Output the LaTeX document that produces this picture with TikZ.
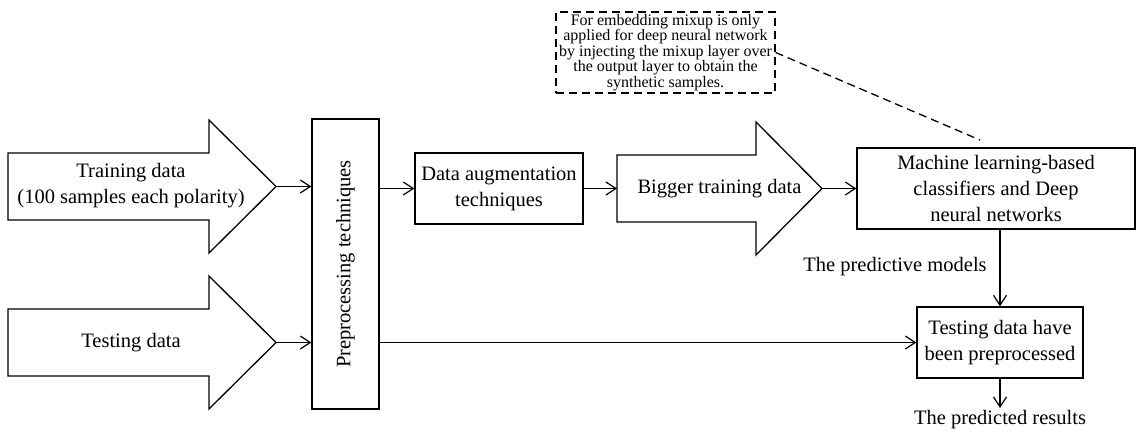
\documentclass[tikz,border=0pt]{standalone}
\usepackage{fontspec}
\setmainfont{Liberation Serif}
\usetikzlibrary{arrows.meta}

\begin{document}
\begin{tikzpicture}[
    x=1pt, y=-1pt,
    line width=1.3pt,
    box/.style={draw=black, rectangle, inner sep=2pt, align=center, font=\fontsize{20.5}{26}\selectfont},
    notebox/.style={draw=black, longdash, rectangle, inner sep=0pt, align=center, font=\fontsize{16}{15.6}\selectfont},
    longdash/.style={dash pattern=on 8pt off 5pt},
    bigarrow/.style={draw=black, line join=miter},
    label/.style={inner sep=1pt, align=center, font=\fontsize{20.5}{26}\selectfont},
    flow/.style={draw=black, -{Straight Barb[length=10pt, width=13pt, line width=1.2pt]}}
]
\useasboundingbox (0,0) rectangle (1136,437);

% Groty duzych strzalek wejsciowych
\coordinate (traintip) at (276,186.5);
\coordinate (testtip) at (276,342.5);
\coordinate (biggertail) at (617,188.5);
\coordinate (biggertip) at (822,188.5);

% Duze strzalki: dane treningowe, testowe i powiekszone
\draw[bigarrow] (8,153) -- (209,153) -- (209,120) -- (traintip) -- (209,253) -- (209,220) -- (8,220) -- cycle;
\draw[bigarrow] (8,309) -- (209,309) -- (209,276) -- (testtip) -- (209,409) -- (209,376) -- (8,376) -- cycle;
\draw[bigarrow] (biggertail) -- (617,155) -- (756,155) -- (756,122) -- (biggertip) -- (756,255) -- (756,222) -- (617,222) -- cycle;

% Napisy na duzych strzalkach
\node[label] (train) at (131,186) {Training data\\(100 samples each polarity)};
\node[label] (test) at (131,342.5) {Testing data};
\node[label] (bigger) at (719.5,188.5) {Bigger training data};

% Prostokatne bloki etapow
\node[box, rotate=90, minimum width=290pt, minimum height=67pt] (pre) at (345.5,264) {Preprocessing techniques};
\node[box, minimum width=168pt, minimum height=71pt] (aug) at (499,188.5) {Data augmentation\\techniques};
\node[box, minimum width=278pt, minimum height=81pt] (ml) at (996,188.5) {Machine learning-based\\classifiers and Deep\\neural networks};
\node[box, minimum width=166pt, minimum height=71pt] (eval) at (1000,342.5) {Testing data have\\been preprocessed};

% Notatka w przerywanej ramce
\node[notebox, minimum width=219pt, minimum height=81pt] (note) at (665.5,52.5) {For embedding mixup is only\\applied for deep neural network\\by injecting the mixup layer over\\the output layer to obtain the\\synthetic samples.};
\coordinate (noteend) at (980,140);
\draw[longdash] (note.east) -- (noteend);

% Polaczenia miedzy blokami
\draw[flow] (traintip) -- (traintip -| pre.north);
\draw[flow] (testtip) -- (testtip -| pre.north);
\draw[flow] (pre.south |- aug.west) -- (aug.west);
\draw[flow] (aug.east) -- (biggertail);
\draw[flow] (biggertip) -- (ml.west);
\draw[flow] (pre.south |- eval.west) -- (eval.west);
\draw[flow] (eval.north |- ml.south) -- (eval.north);
\coordinate (resultend) at (1000,408);
\draw[flow] (eval.south) -- (resultend);

% Etykiety wynikow
\node[label] (models) at (895,267) {The predictive models};
\node[label, below=1pt] (results) at (resultend) {The predicted results};

\end{tikzpicture}
\end{document}
